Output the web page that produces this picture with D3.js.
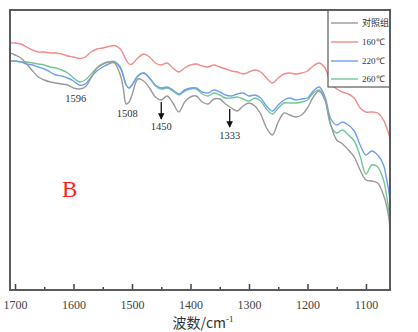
<!DOCTYPE html>
<html><head><meta charset="utf-8">
<script src="https://cdn.jsdelivr.net/npm/d3@7"></script>
<style>html,body{margin:0;padding:0;background:#fff;}svg{display:block;}</style>
</head><body>
<svg id="c" width="418" height="332"></svg>
<script>
const wavenumbers = [1709,1700,1690,1680,1670,1660,1650,1640,1630,1620,
 1610,1600,1590,1580,1570,1560,1550,1540,1530,1520,
 1515,1510,1505,1500,1490,1480,1470,1460,1450,1440,
 1430,1420,1410,1400,1390,1380,1370,1360,1350,1340,
 1330,1320,1310,1300,1290,1280,1270,1260,1250,1240,
 1230,1220,1210,1200,1190,1180,1170,1160,1150,1140,
 1130,1120,1110,1100,1090,1080,1070,1065,1060,1059];
const control = [47.4,47.0,46.4,45.2,43.8,42.6,42.0,41.6,41.4,41.2,
 41.0,40.4,40.2,40.6,42.4,44.4,45.2,45.6,45.4,43.0,
 40.4,37.2,37.6,39.0,42.2,41.8,40.4,38.6,38.0,38.8,
 37.4,35.6,37.6,38.6,38.8,37.6,37.2,38.2,38.2,37.2,
 36.4,35.8,36.8,37.4,36.8,35.2,32.4,31.0,33.6,35.4,
 35.0,34.6,35.0,36.4,38.6,39.8,38.0,33.0,30.0,29.2,
 28.0,26.6,24.0,22.0,21.8,21.4,19.0,17.0,13.6,11.6];
const t160 = [49.4,49.4,49.2,48.6,48.0,47.6,47.6,47.4,47.4,47.2,
 46.8,46.6,46.3,46.6,47.6,48.2,48.4,48.7,48.9,48.2,
 47.2,46.0,45.2,45.2,46.4,47.2,46.6,45.4,45.0,45.4,
 44.4,43.6,44.4,45.0,45.2,44.8,44.6,45.0,44.6,44.2,
 43.8,43.6,43.2,43.6,44.0,43.6,42.4,41.4,42.4,43.2,
 43.4,43.2,43.4,43.8,44.8,45.4,44.4,41.4,40.2,39.6,
 39.2,38.4,36.4,35.6,35.6,35.4,34.0,32.6,30.8,30.0];
const t220 = [45.8,45.8,45.6,45.2,45.0,44.6,44.2,43.6,43.0,42.8,
 42.4,41.8,41.0,41.2,42.6,43.8,44.6,45.2,45.5,44.4,
 42.8,41.0,40.4,41.0,42.8,43.4,42.4,41.0,40.4,40.6,
 40.0,39.2,40.0,40.4,40.4,39.6,39.4,40.0,39.6,39.0,
 38.8,39.2,39.4,38.8,39.0,38.4,36.8,35.8,37.0,38.0,
 38.4,38.0,38.2,38.4,39.8,40.6,38.6,34.2,33.0,33.6,
 33.0,31.8,29.0,27.0,27.8,27.0,25.0,22.4,19.0,17.0];
const t260 = [45.8,45.8,45.6,45.6,45.4,45.2,45.0,44.6,44.4,44.0,
 43.4,42.4,41.6,42.0,43.2,44.4,45.2,45.6,45.7,44.6,
 43.0,41.0,40.4,41.0,42.8,43.4,42.4,40.8,40.2,40.4,
 39.8,39.0,39.8,40.2,40.2,39.2,38.8,39.4,39.0,38.4,
 38.4,38.6,38.2,37.8,38.4,37.8,36.2,35.2,36.4,37.4,
 37.4,37.4,37.6,38.0,39.4,40.0,38.0,32.8,31.4,32.0,
 31.0,29.8,26.8,23.2,25.0,24.6,22.0,19.0,15.0,11.0];

const seriesNames = ["对照组","160℃","220℃","260℃"];
const seriesColors = ["#9a9a9a","#f28a8a","#6f9ff0","#72c795"];
const xTicks = [1700,1600,1500,1400,1300,1200,1100];
const xMinorTicks = [1650,1550,1450,1350,1250,1150];
const peakWn = [1596,1508,1450,1333];
const peakLabels = ["1596","1508","1450","1333"];
const peakLabelVal = [38.4,35.4,32.8,31.0];
const arrowWn = [1450,1333];
const arrowFrom = [37.6,36.2];
const arrowTo = [34.2,32.6];

const svg = d3.select("#c");
const L=10, R=390, T=10, B=290;
const x = d3.scaleLinear().domain([1708.6,1058.9]).range([L,R]);
const y = d3.scaleLinear().domain([0,56]).range([B,T]);

svg.append("defs").append("clipPath").attr("id","clip")
  .append("rect").attr("x",L).attr("y",T).attr("width",R-L).attr("height",B-T);

const line = d3.line().x(d=>x(d[0])).y(d=>y(d[1])).curve(d3.curveCatmullRom.alpha(0.5));
const allSeries = [control,t160,t220,t260];
const g = svg.append("g").attr("clip-path","url(#clip)");
// draw order: green, blue, gray, red
[3,2,0,1].forEach(i=>{
  g.append("path").datum(wavenumbers.map((w,j)=>[w,allSeries[i][j]]))
   .attr("d",line).attr("fill","none").attr("stroke",seriesColors[i])
   .attr("stroke-width",1.4).attr("stroke-linejoin","round");
});

// frame
svg.append("rect").attr("x",L).attr("y",T).attr("width",R-L).attr("height",B-T)
  .attr("fill","none").attr("stroke","#5a5a5a").attr("stroke-width",1.8);

// x axis ticks inward
const ax = d3.axisBottom(x).tickValues(xTicks).tickSize(-6).tickPadding(10).tickFormat(d3.format("d"));
const axG = svg.append("g").attr("transform",`translate(0,${B})`).call(ax);
axG.select(".domain").remove();
axG.selectAll(".tick line").attr("stroke","#444").attr("stroke-width",1.5);
axG.selectAll(".tick text").attr("font-family","'Liberation Serif',serif").attr("font-size",12).attr("fill","#444");
const axm = d3.axisBottom(x).tickValues(xMinorTicks).tickSize(-3).tickFormat("");
const axmG = svg.append("g").attr("transform",`translate(0,${B})`).call(axm);
axmG.select(".domain").remove();
axmG.selectAll(".tick line").attr("stroke","#444").attr("stroke-width",1.5);

// axis title
const title = svg.append("text").attr("x",203).attr("y",328).attr("text-anchor","middle")
  .attr("font-family","'Noto Sans CJK SC','Liberation Serif',serif").attr("font-size",14).attr("fill","#333");
title.append("tspan").text("波数/cm");
title.append("tspan").attr("dy",-6).attr("font-size",9).attr("font-family","'Liberation Serif',serif").text("-1");

// B label
svg.append("text").attr("x",62).attr("y",197).attr("font-family","'Liberation Serif',serif")
  .attr("font-size",23).attr("fill","#ff1a1a").text("B");

// peak labels
peakWn.forEach((w,i)=>{
  svg.append("text").attr("x",x(w)).attr("y",y(peakLabelVal[i])).attr("dy","0.35em")
    .attr("text-anchor","middle").attr("font-family","'Liberation Serif',serif")
    .attr("font-size",10.5).attr("fill","#333").text(peakLabels[i]);
});
svg.append("defs").append("marker").attr("id","ah").attr("viewBox","0 0 10 10")
  .attr("refX",9).attr("refY",5).attr("markerWidth",5).attr("markerHeight",5).attr("orient","auto")
  .append("path").attr("d","M0,0L10,5L0,10z").attr("fill","#111");
arrowWn.forEach((w,i)=>{
  svg.append("line").attr("x1",x(w)).attr("x2",x(w)).attr("y1",y(arrowFrom[i])).attr("y2",y(arrowTo[i]))
    .attr("stroke","#111").attr("stroke-width",1.3).attr("marker-end","url(#ah)");
});

// legend
const lg = svg.append("g");
lg.append("rect").attr("x",328).attr("y",T).attr("width",R-328).attr("height",77)
  .attr("fill","#fff").attr("stroke","#5a5a5a").attr("stroke-width",1.2);
const legendRowsY = [23,42,61,79];
seriesNames.forEach((n,i)=>{
  lg.append("line").attr("x1",331).attr("x2",358).attr("y1",legendRowsY[i]).attr("y2",legendRowsY[i])
    .attr("stroke",seriesColors[i]).attr("stroke-width",1.4);
  lg.append("text").attr("x",362).attr("y",legendRowsY[i]).attr("dy","0.35em")
    .attr("font-family", i===0 ? "'Noto Sans CJK SC',serif" : "'Liberation Serif',serif")
    .attr("font-size",9).attr("fill","#333").text(n);
});
// redraw frame right/top edges over legend
svg.append("rect").attr("x",L).attr("y",T).attr("width",R-L).attr("height",B-T)
  .attr("fill","none").attr("stroke","#5a5a5a").attr("stroke-width",1.8);
</script>
</body></html>
